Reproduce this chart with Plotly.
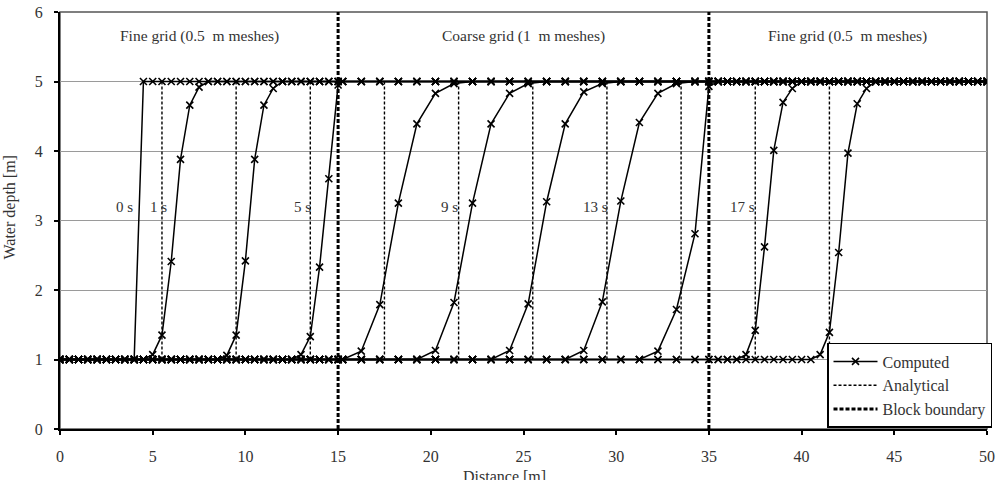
import plotly.graph_objects as go

# ---- grid nodes (m) ----
fine_left_x = [0.0, 0.5, 1.0, 1.5, 2.0, 2.5, 3.0, 3.5, 4.0, 4.5, 5.0, 5.5, 6.0, 6.5, 7.0, 7.5,
               8.0, 8.5, 9.0, 9.5, 10.0, 10.5, 11.0, 11.5, 12.0, 12.5, 13.0, 13.5, 14.0, 14.5, 15.0]
coarse_x = [15.25, 16.25, 17.25, 18.25, 19.25, 20.25, 21.25, 22.25, 23.25, 24.25,
            25.25, 26.25, 27.25, 28.25, 29.25, 30.25, 31.25, 32.25, 33.25, 34.25]
fine_right_x = [35.0, 35.5, 36.0, 36.5, 37.0, 37.5, 38.0, 38.5, 39.0, 39.5, 40.0, 40.5, 41.0, 41.5,
                42.0, 42.5, 43.0, 43.5, 44.0, 44.5, 45.0, 45.5, 46.0, 46.5, 47.0, 47.5, 48.0, 48.5,
                49.0, 49.5, 50.0]

depth_low = 1.0
depth_high = 5.0

# ---- computed front transitions (x, depth) ----
t0_x = [4.0, 4.5];                              t0_h = [1.0, 5.0]
t1_x = [5.0, 5.5, 6.0, 6.5, 7.0, 7.5];          t1_h = [1.07, 1.35, 2.41, 3.88, 4.66, 4.92]
t3_x = [9.0, 9.5, 10.0, 10.5, 11.0, 11.5];      t3_h = [1.06, 1.35, 2.42, 3.88, 4.66, 4.90]
t5_x = [13.0, 13.5, 14.0, 14.5, 15.0];          t5_h = [1.07, 1.33, 2.33, 3.60, 4.95]
t7_x = [16.25, 17.25, 18.25, 19.25, 20.25, 21.25]; t7_h = [1.12, 1.79, 3.25, 4.39, 4.83, 4.97]
t9_x = [20.25, 21.25, 22.25, 23.25, 24.25, 25.25]; t9_h = [1.13, 1.82, 3.25, 4.39, 4.83, 4.97]
t11_x = [24.25, 25.25, 26.25, 27.25, 28.25, 29.25]; t11_h = [1.13, 1.80, 3.27, 4.39, 4.85, 4.97]
t13_x = [28.25, 29.25, 30.25, 31.25, 32.25, 33.25]; t13_h = [1.13, 1.83, 3.28, 4.41, 4.83, 4.97]
t15_x = [32.25, 33.25, 34.25, 35.0];            t15_h = [1.12, 1.72, 2.81, 4.93]
t17_x = [37.0, 37.5, 38.0, 38.5, 39.0, 39.5];   t17_h = [1.07, 1.42, 2.62, 4.01, 4.70, 4.90]
t19_x = [41.0, 41.5, 42.0, 42.5, 43.0, 43.5];   t19_h = [1.07, 1.39, 2.54, 3.97, 4.68, 4.90]

# ---- analytical front positions (m) ----
analytical_x = [5.5, 9.5, 13.5, 17.5, 21.5, 25.5, 29.5, 33.5, 37.5, 41.5]
block_boundary_x = [15.0, 35.0]

# ---- labels ----
time_labels = ["0 s", "1 s", "5 s", "9 s", "13 s", "17 s"]
time_label_x = [4.05, 5.9, 13.65, 21.6, 29.65, 37.6]
time_label_y = 3.2
region_labels = ["Fine grid (0.5  m meshes)", "Coarse grid (1  m meshes)", "Fine grid (0.5  m meshes)"]
region_label_x = [7.5, 25.0, 42.5]
region_label_y = 5.65

FONT = "Liberation Serif"
TXT = "#333333"

nodes = fine_left_x + coarse_x + fine_right_x
curves = [(t0_x, t0_h), (t1_x, t1_h), (t3_x, t3_h), (t5_x, t5_h), (t7_x, t7_h), (t9_x, t9_h),
          (t11_x, t11_h), (t13_x, t13_h), (t15_x, t15_h), (t17_x, t17_h), (t19_x, t19_h)]

cx, cy = [], []
for tx, th in curves:
    lookup = dict(zip(tx, th))
    for x in nodes:
        if x in lookup:
            h = lookup[x]
        elif x < tx[0]:
            h = depth_low
        else:
            h = depth_high
        cx.append(x)
        cy.append(h)
    cx.append(None)
    cy.append(None)

ax_, ay_ = [], []
for xa in analytical_x:
    ax_ += [xa, xa, None]
    ay_ += [depth_low, depth_high, None]

bx, by = [], []
for xb in block_boundary_x:
    bx += [xb, xb, None]
    by += [0, 6, None]

fig = go.Figure()
fig.add_trace(go.Scatter(x=cx, y=cy, mode="lines+markers", name="Computed",
                         line=dict(color="black", width=1.5),
                         marker=dict(symbol="x-thin", size=7, line=dict(color="black", width=1.6)),
                         connectgaps=False))
fig.add_trace(go.Scatter(x=ax_, y=ay_, mode="lines", name="Analytical",
                         line=dict(color="black", width=1.4, dash="3px,2px")))
fig.add_trace(go.Scatter(x=bx, y=by, mode="lines", name="Block boundary",
                         line=dict(color="black", width=3, dash="4px,2px"), cliponaxis=False))

for t, x in zip(time_labels, time_label_x):
    fig.add_annotation(x=x, y=time_label_y, text=t, showarrow=False, xanchor="right",
                       yanchor="middle", font=dict(family=FONT, size=15, color=TXT))
for t, x in zip(region_labels, region_label_x):
    fig.add_annotation(x=x, y=region_label_y, text=t, showarrow=False, xanchor="center",
                       yanchor="middle", font=dict(family=FONT, size=15.5, color=TXT))

fig.add_annotation(xref="paper", yref="paper", x=0.4795, y=-0.089, text="Distance [m]",
                   showarrow=False, xanchor="center", yanchor="top",
                   font=dict(family=FONT, size=16, color=TXT))
fig.add_annotation(xref="paper", yref="paper", x=-0.054, y=0.531, text="Water depth [m]",
                   showarrow=False, xanchor="center", yanchor="middle", textangle=-90,
                   font=dict(family=FONT, size=16, color=TXT))

fig.add_shape(type="rect", xref="paper", yref="paper", x0=0, x1=1, y0=0, y1=1,
              line=dict(color="#555555", width=1.5), layer="below")

fig.update_layout(
    width=1006, height=480,
    margin=dict(l=60, r=19, t=12, b=51, autoexpand=False),
    paper_bgcolor="white", plot_bgcolor="white",
    showlegend=True,
    legend=dict(x=1.0054, xanchor="right", y=0.0024, yanchor="bottom",
                bgcolor="white", bordercolor="black", borderwidth=1.5, itemwidth=44,
                font=dict(family=FONT, size=16, color=TXT), tracegroupgap=0),
    font=dict(family=FONT, size=15, color=TXT),
)
fig.update_xaxes(range=[0, 50], tickvals=[0, 5, 10, 15, 20, 25, 30, 35, 40, 45, 50],
                 showgrid=False, zeroline=False, showline=True, linecolor="black", linewidth=2,
                 ticks="outside", ticklen=4, tickcolor="black", tickwidth=1.5, automargin=False,
                 ticklabelstandoff=8, tickfont=dict(family=FONT, size=16, color=TXT))
fig.update_yaxes(range=[0, 6], tickvals=[0, 1, 2, 3, 4, 5, 6],
                 showgrid=True, gridcolor="#9a9a9a", gridwidth=1, zeroline=False,
                 showline=True, linecolor="black", linewidth=2, automargin=False,
                 ticks="outside", ticklen=4, tickcolor="black", tickwidth=1.5,
                 ticklabelstandoff=8, tickfont=dict(family=FONT, size=16, color=TXT))

fig.write_html("out.html")
